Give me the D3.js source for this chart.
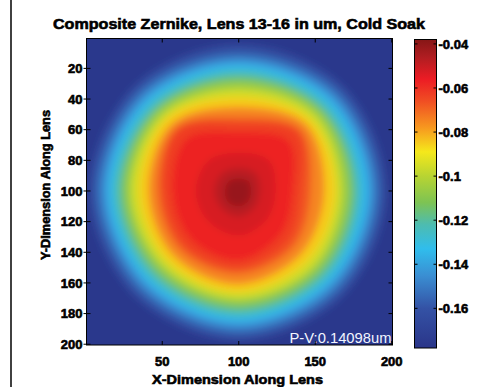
<!DOCTYPE html>
<html>
<head>
<meta charset="utf-8">
<script src="https://cdn.jsdelivr.net/npm/d3@7"></script>
<style>
  html, body { margin: 0; padding: 0; background: #fff; }
  svg { display: block; }
  text { font-family: "Liberation Sans", Arial, sans-serif; }
</style>
</head>
<body>
<div id="chart"></div>
<script>
// Labels
const title = 'Composite Zernike, Lens 13-16 in um, Cold Soak';
const xLabel = 'X-Dimension Along Lens';
const yLabel = 'Y-Dimension Along Lens';
const pvLabel = 'P-V:0.14098um';

// Ticks
const xTicks = [50, 100, 150, 200];
const yTicks = [20, 40, 60, 80, 100, 120, 140, 160, 180, 200];
const cbTicks = [-0.04, -0.06, -0.08, -0.1, -0.12, -0.14, -0.16];
const cbTickLabels = ['-0.04', '-0.06', '-0.08', '-0.1', '-0.12', '-0.14', '-0.16'];

// Colour map (scanned jet)
const zRange = [-0.178, -0.038];
const colorValues = [-0.178, -0.16, -0.145, -0.133, -0.122, -0.112, -0.1, -0.089, -0.078, -0.066, -0.056, -0.046, -0.038];
const colorStops = ['#2a3589', '#3452a5', '#3a8fd3', '#30bdec', '#4dbcb0', '#7dc353', '#b8d432',
  '#f5e81b', '#f7981f', '#f04e23', '#ec1c24', '#b01d21', '#861616'];

// Surface read as contour radii (lens units) around the lens centre,
// at angles clockwise from "up"
const lensCenter = [100, 100];
const angles = [0, 45, 90, 135, 180, 225, 270, 315];
const levels = [-0.17, -0.16, -0.15, -0.14, -0.13, -0.12, -0.11, -0.1, -0.09, -0.08, -0.07, -0.065, -0.06, -0.055, -0.05, -0.045];
const levelRadii = [
  [96, 97, 97, 97, 98, 97, 98, 97],
  [91, 93, 93, 93, 94, 93, 94, 93],
  [87, 89, 89, 89, 90, 89, 90, 89],
  [83, 85, 85, 85, 86, 85, 86, 85],
  [79, 81, 80, 81, 82, 81, 82, 81],
  [75, 77, 76, 77, 78, 77, 78, 77],
  [71, 74, 72, 73, 74, 73, 74, 74],
  [66, 70, 67, 69, 70, 69, 70, 70],
  [61, 66, 63, 64, 66, 65, 65, 67],
  [55, 62, 56, 58, 61, 60, 59, 62],
  [48, 57, 47, 51, 54, 54, 53, 58],
  [44, 54, 41, 46, 50, 50, 49, 56],
  [38, 46, 35, 39, 45, 44, 43, 48],
  [25, 28, 24, 26, 29, 28, 28, 28],
  [15, 16, 14, 15, 17, 16, 16, 16],
  [8, 9, 8, 9, 10, 10, 9, 9]
];

const W = 484, H = 387;
const plot = { left: 86.5, right: 392.5, top: 38.5, bottom: 345 };
const bar = { left: 414.5, right: 436.5, top: 39.5, bottom: 348 };

const svg = d3.select('#chart').append('svg')
  .attr('width', W).attr('height', H);

svg.append('rect').attr('width', W).attr('height', H).attr('fill', '#fff');

// scanned page edge line
svg.append('line')
  .attr('x1', 11).attr('x2', 11).attr('y1', 0).attr('y2', H)
  .attr('stroke', '#111').attr('stroke-width', 1.6);

const x = d3.scaleLinear().domain([0.5, 200.5]).range([plot.left, plot.right]);
const y = d3.scaleLinear().domain([0.5, 200.5]).range([plot.top, plot.bottom]);
const color = d3.scaleLinear().domain(colorValues).range(colorStops).clamp(true);
const cb = d3.scaleLinear().domain(zRange).range([bar.bottom, bar.top]);

const defs = svg.append('defs');
defs.append('clipPath').attr('id', 'plotClip')
  .append('rect')
  .attr('x', plot.left).attr('y', plot.top)
  .attr('width', plot.right - plot.left).attr('height', plot.bottom - plot.top);
defs.append('filter').attr('id', 'soft')
  .attr('x', '-10%').attr('y', '-10%').attr('width', '120%').attr('height', '120%')
  .append('feGaussianBlur').attr('stdDeviation', 3.5);

// Surface
const surface = svg.append('g').attr('clip-path', 'url(#plotClip)')
  .append('g').attr('filter', 'url(#soft)');

surface.append('rect')
  .attr('x', plot.left - 20).attr('y', plot.top - 20)
  .attr('width', plot.right - plot.left + 40).attr('height', plot.bottom - plot.top + 40)
  .attr('fill', color(zRange[0] + 0.002));

const contourLine = d3.line()
  .x(d => x(d[0])).y(d => y(d[1]))
  .curve(d3.curveCatmullRomClosed.alpha(0.5));

const toPoints = radii => radii.map((r, i) => {
  const a = angles[i] * Math.PI / 180;
  return [lensCenter[0] + r * Math.sin(a), lensCenter[1] - r * Math.cos(a)];
});

surface.selectAll('path.level')
  .data(levels)
  .join('path')
  .attr('class', 'level')
  .attr('d', (d, i) => contourLine(toPoints(levelRadii[i])))
  .attr('fill', (d, i) => color(i < levels.length - 1 ? (d + levels[i + 1]) / 2 : (d + zRange[1]) / 2));

// P-V annotation
svg.append('text')
  .attr('x', plot.right - 1).attr('y', plot.bottom - 2.5)
  .attr('text-anchor', 'end')
  .attr('font-size', 14)
  .attr('fill', '#f2f5ff')
  .attr('textLength', 102).attr('lengthAdjust', 'spacingAndGlyphs')
  .text(pvLabel);

// Frame and inward ticks
svg.append('rect')
  .attr('x', plot.left).attr('y', plot.top)
  .attr('width', plot.right - plot.left).attr('height', plot.bottom - plot.top)
  .attr('fill', 'none').attr('stroke', '#000').attr('stroke-width', 1);

const tickLen = 4;
const ticks = svg.append('g').attr('stroke', '#000').attr('stroke-width', 1);
xTicks.forEach(t => {
  ticks.append('line').attr('x1', x(t)).attr('x2', x(t)).attr('y1', plot.bottom).attr('y2', plot.bottom - tickLen);
  ticks.append('line').attr('x1', x(t)).attr('x2', x(t)).attr('y1', plot.top).attr('y2', plot.top + tickLen);
});
yTicks.forEach(t => {
  ticks.append('line').attr('x1', plot.left - 3).attr('x2', plot.left + tickLen).attr('y1', y(t)).attr('y2', y(t));
  ticks.append('line').attr('x1', plot.right).attr('x2', plot.right - tickLen).attr('y1', y(t)).attr('y2', y(t));
});

const boldText = sel => sel
  .attr('font-weight', 'bold')
  .attr('fill', '#000')
  .attr('stroke', '#000')
  .attr('stroke-width', 0.6);

// Tick labels
svg.append('g').selectAll('text')
  .data(xTicks).join('text')
  .attr('x', d => x(d)).attr('y', 366)
  .attr('text-anchor', 'middle')
  .attr('font-size', 13)
  .call(boldText)
  .text(d => d);

svg.append('g').selectAll('text')
  .data(yTicks).join('text')
  .attr('x', plot.left - 4).attr('y', d => y(d))
  .attr('dy', '0.36em')
  .attr('text-anchor', 'end')
  .attr('font-size', 13)
  .call(boldText)
  .text(d => d);

// Axis titles
svg.append('text')
  .attr('x', (plot.left + plot.right) / 2 - 2).attr('y', 384)
  .attr('text-anchor', 'middle')
  .attr('font-size', 13)
  .attr('textLength', 171).attr('lengthAdjust', 'spacingAndGlyphs')
  .call(boldText)
  .text(xLabel);

svg.append('text')
  .attr('transform', `translate(50,${185}) rotate(-90)`)
  .attr('text-anchor', 'middle')
  .attr('font-size', 13)
  .attr('textLength', 150).attr('lengthAdjust', 'spacingAndGlyphs')
  .call(boldText)
  .text(yLabel);

// Title
svg.append('text')
  .attr('x', 239).attr('y', 29)
  .attr('text-anchor', 'middle')
  .attr('font-size', 15)
  .attr('textLength', 372).attr('lengthAdjust', 'spacingAndGlyphs')
  .call(boldText)
  .text(title);

// Colour bar
const grad = defs.append('linearGradient').attr('id', 'cbGrad')
  .attr('x1', 0).attr('x2', 0).attr('y1', 1).attr('y2', 0);
grad.selectAll('stop')
  .data(colorValues).join('stop')
  .attr('offset', d => (d - zRange[0]) / (zRange[1] - zRange[0]))
  .attr('stop-color', (d, i) => colorStops[i]);

svg.append('rect')
  .attr('x', bar.left).attr('y', bar.top)
  .attr('width', bar.right - bar.left).attr('height', bar.bottom - bar.top)
  .attr('fill', 'url(#cbGrad)')
  .attr('stroke', '#000').attr('stroke-width', 1);

const cbTickG = svg.append('g').attr('stroke', '#000').attr('stroke-width', 1);
cbTicks.forEach(t => {
  cbTickG.append('line').attr('x1', bar.left).attr('x2', bar.left + 3).attr('y1', cb(t)).attr('y2', cb(t));
  cbTickG.append('line').attr('x1', bar.right).attr('x2', bar.right - 3).attr('y1', cb(t)).attr('y2', cb(t));
});

svg.append('g').selectAll('text')
  .data(cbTicks).join('text')
  .attr('x', bar.right + 2).attr('y', d => cb(d))
  .attr('dy', '0.36em')
  .attr('font-size', 13)
  .call(boldText)
  .text((d, i) => cbTickLabels[i]);
</script>
</body>
</html>
